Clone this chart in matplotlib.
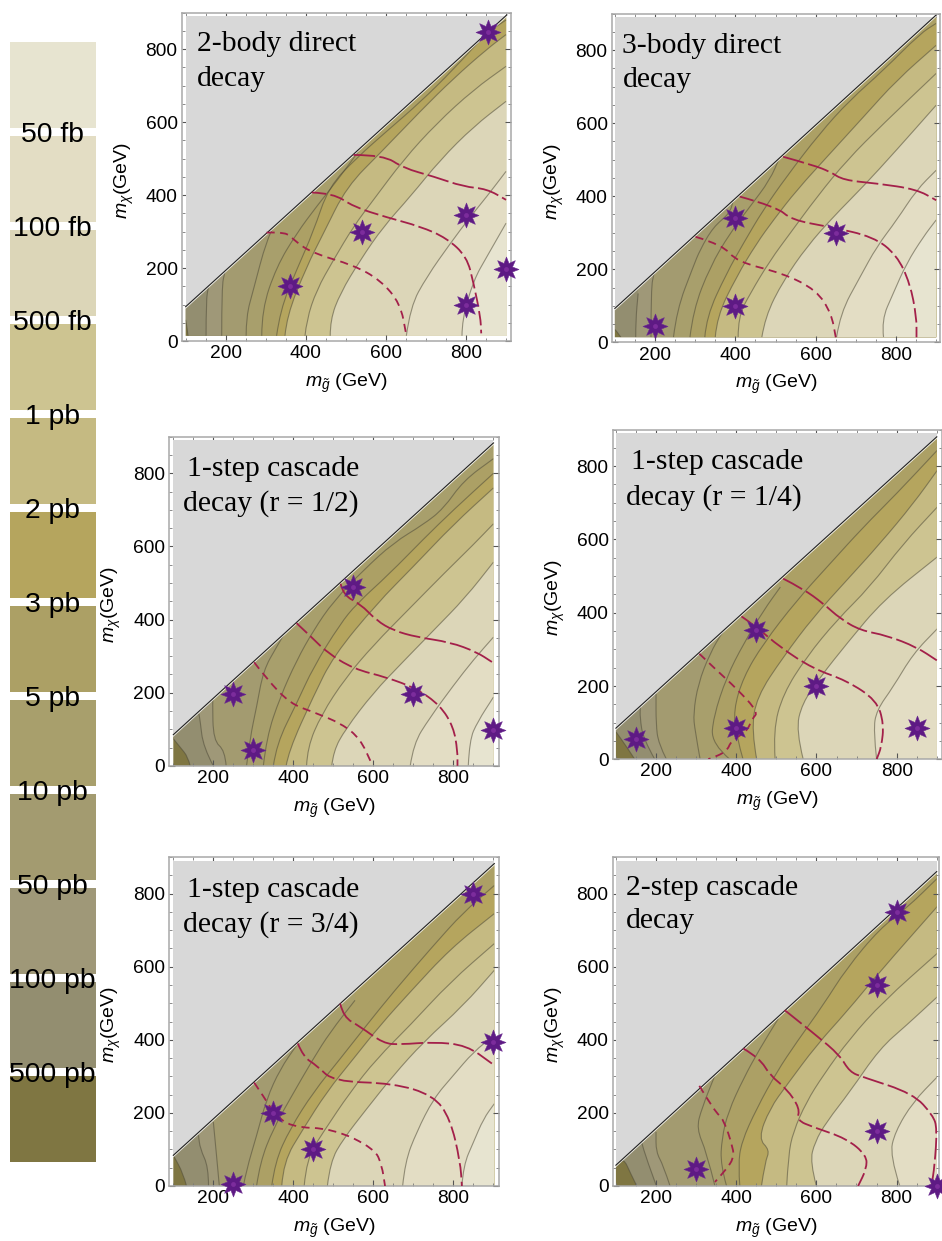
import matplotlib
matplotlib.use("Agg")
import matplotlib.pyplot as plt
from matplotlib.path import Path
from matplotlib.patches import Rectangle, PathPatch, Polygon

plt.rcParams["font.family"] = ["Liberation Sans", "DejaVu Sans"]
plt.rcParams["mathtext.fontset"] = "custom"
plt.rcParams["mathtext.rm"] = "Liberation Sans"
plt.rcParams["mathtext.it"] = "Liberation Sans:italic"

W, H = 942, 1241

# colour scale, light to dark as in the left column
SWATCH_COLORS = ["#E7E4D0", "#E3DDC4", "#DCD6B8", "#CDC491", "#C5BA82", "#B5A55E",
                 "#ACA065", "#A89F6C", "#A39B70", "#9F9878", "#938E70", "#7F7642"]
SWATCH_LABELS = ["50 fb", "100 fb", "500 fb", "1 pb", "2 pb", "3 pb", "5 pb",
                 "10 pb", "50 pb", "100 pb", "500 pb"]

X_TICKS = [200, 400, 600, 800]
Y_TICKS = [0, 200, 400, 600, 800]

# --- 2-body direct: contours from 500 pb down to 50 fb ---
P1_CONTOURS = [
    [(106, 14), (103, 40), (100, 58)],
    [(151, 14), (151, 112), (157, 149)],
    [(190, 14), (190, 149), (198, 190)],
    [(251, 14), (251, 67), (269, 140), (302, 277), (336, 350), (377, 396)],
    [(290, 14), (290, 85), (327, 204), (377, 295), (427, 369), (486, 451), (540, 533)],
    [(327, 14), (336, 85), (377, 195), (419, 300), (457, 423), (530, 505), (602, 575), (686, 655), (769, 745), (852, 845), (900, 880)],
    [(348, 14), (352, 67), (402, 204), (444, 295), (502, 423), (590, 520), (686, 630), (769, 720), (852, 800), (900, 840)],
    [(398, 14), (402, 58), (427, 140), (469, 222), (519, 314), (569, 387), (644, 497), (727, 597), (819, 689), (900, 753)],
    [(461, 14), (461, 58), (486, 131), (536, 222), (594, 314), (661, 396), (736, 497), (819, 588), (900, 657)],
    [(651, 14), (661, 94), (702, 176), (761, 268), (811, 341), (852, 396), (900, 465)],
    [(790, 14), (790, 58), (819, 167), (852, 231), (900, 323)],
]
P1_LIMITS = [
    [(519, 510), (594, 510), (644, 474), (719, 451), (794, 423), (852, 417), (900, 387)],
    [(415, 407), (469, 405), (519, 368), (602, 339), (686, 314), (752, 282), (802, 231), (819, 158), (836, 67), (838, 21)],
    [(302, 297), (352, 300), (373, 273), (419, 240), (519, 208), (586, 167), (636, 103), (651, 16)],
]
P1_POINTS = [(854, 848), (800, 345), (540, 300), (360, 150), (900, 197), (800, 100)]

# --- 3-body direct ---
P2_CONTOURS = [
    [(115, 14), (105, 30), (100, 35)],
    [(152, 14), (152, 60), (158, 134)],
    [(190, 14), (190, 150), (198, 190)],
    [(246, 14), (254, 88), (295, 207), (312, 253), (345, 316), (386, 353), (395, 389)],
    [(287, 14), (295, 88), (337, 207), (386, 298), (436, 371), (486, 444), (511, 508)],
    [(324, 14), (328, 70), (378, 189), (420, 271), (469, 362), (527, 453), (610, 572), (685, 663), (769, 745), (860, 845), (900, 873)],
    [(350, 14), (354, 70), (403, 180), (453, 271), (495, 335), (553, 417), (636, 517), (719, 617), (802, 718), (900, 813)],
    [(407, 14), (407, 70), (437, 134), (487, 225), (536, 298), (603, 398), (678, 499), (769, 599), (900, 736)],
    [(466, 14), (474, 70), (520, 170), (578, 262), (644, 344), (718, 426), (801, 526), (900, 649)],
    [(652, 14), (661, 79), (711, 180), (752, 262), (802, 335), (851, 417), (900, 471)],
    [(769, 14), (764, 61), (793, 134), (826, 216), (868, 289), (900, 335)],
]
P2_LIMITS = [
    [(519, 508), (594, 485), (636, 467), (669, 444), (752, 435), (851, 419), (900, 389)],
    [(411, 399), (503, 371), (540, 335), (636, 316), (744, 289), (802, 239), (835, 161), (851, 70), (851, 14)],
    [(301, 289), (370, 266), (403, 221), (519, 189), (602, 143), (639, 79), (650, 14)],
]
P2_POINTS = [(200, 45), (400, 340), (400, 100), (650, 300)]

# --- 1-step cascade r = 1/2 ---
P3_CONTOURS = [
    [(142, 0), (137, 24), (117, 51), (100, 74)],
    [(200, 0), (175, 51), (167, 124), (164, 142)],
    [(232, 0), (229, 42), (200, 69), (198, 179), (200, 197)],
    [(283, 0), (292, 78), (308, 160), (325, 261), (358, 325), (392, 388)],
    [(325, 0), (333, 78), (367, 188), (408, 288), (450, 370), (500, 450), (575, 535), (650, 610), (725, 660), (775, 703), (825, 780), (900, 840)],
    [(350, 0), (358, 60), (408, 170), (450, 270), (517, 388), (558, 443), (640, 525), (725, 620), (800, 700), (900, 800)],
    [(382, 0), (388, 40), (450, 190), (500, 300), (608, 443), (700, 545), (800, 660), (900, 760)],
    [(433, 0), (435, 50), (470, 140), (530, 240), (600, 330), (690, 430), (780, 530), (850, 605), (900, 662)],
    [(496, 0), (500, 40), (530, 100), (600, 200), (670, 280), (750, 370), (830, 460), (900, 557)],
    [(692, 0), (700, 60), (740, 130), (800, 220), (850, 290), (900, 352)],
    [(837, 0), (840, 70), (860, 120), (900, 188)],
]
P3_LIMITS = [
    [(518, 498), (525, 466), (567, 443), (608, 397), (650, 370), (708, 352), (792, 338), (858, 311), (896, 284)],
    [(408, 390), (450, 347), (483, 311), (550, 265), (633, 242), (708, 211), (767, 165), (800, 106), (810, 42), (810, 0)],
    [(302, 283), (333, 238), (392, 170), (450, 147), (521, 115), (567, 74), (596, 5)],
]
P3_POINTS = [(550, 490), (250, 197), (300, 42), (700, 197), (900, 97)]

# --- 1-step cascade r = 1/4 ---
P4_CONTOURS = [
    [(147, 0), (127, 34), (100, 75)],
    [(197, 0), (168, 56), (160, 115), (161, 143)],
    [(226, 0), (206, 43), (200, 97), (200, 179)],
    [(310, 0), (297, 79), (293, 125), (305, 206), (334, 288), (368, 352), (401, 393)],
    [(384, 0), (338, 43), (343, 115), (376, 225), (418, 315), (468, 406), (510, 470)],
    [(417, 0), (401, 61), (393, 134), (418, 225), (467, 315), (551, 434), (634, 534), (717, 634), (800, 725), (901, 843)],
    [(451, 0), (438, 79), (451, 170), (517, 279), (592, 388), (675, 488), (758, 588), (841, 697), (901, 788)],
    [(497, 0), (492, 79), (517, 179), (575, 279), (650, 379), (733, 470), (816, 588), (901, 688)],
    [(567, 0), (549, 79), (564, 152), (610, 225), (675, 315), (766, 434), (901, 552)],
    [(750, 0), (742, 79), (750, 134), (791, 197), (841, 288), (901, 356)],
]
P4_LIMITS = [
    [(517, 493), (567, 465), (617, 425), (659, 384), (709, 352), (775, 338), (850, 306), (900, 270)],
    [(413, 390), (451, 361), (509, 306), (592, 247), (675, 215), (750, 161), (768, 97), (762, 34), (750, 0)],
    [(308, 288), (351, 243), (401, 193), (455, 129), (440, 111), (426, 75), (388, 52), (376, 20), (330, 0)],
]
P4_POINTS = [(150, 55), (450, 352), (400, 85), (600, 200), (850, 85)]

# --- 1-step cascade r = 3/4 ---
P5_CONTOURS = [
    [(133, 0), (125, 34), (100, 84)],
    [(188, 0), (188, 52), (167, 102), (163, 139)],
    [(215, 0), (208, 84), (200, 175)],
    [(275, 0), (283, 45), (308, 137), (333, 238), (367, 320), (408, 385)],
    [(308, 0), (317, 66), (350, 157), (392, 239), (450, 349), (492, 421), (554, 508)],
    [(346, 0), (354, 66), (392, 157), (450, 257), (517, 348), (583, 440), (650, 531), (750, 658), (825, 749), (902, 822)],
    [(371, 0), (375, 66), (425, 157), (483, 257), (550, 348), (617, 440), (692, 531), (792, 649), (902, 745)],
    [(427, 0), (433, 75), (475, 148), (542, 257), (608, 348), (692, 440), (792, 558), (902, 663)],
    [(485, 0), (492, 66), (525, 129), (583, 211), (650, 303), (725, 394), (825, 494), (902, 590)],
    [(673, 0), (679, 66), (708, 148), (750, 239), (800, 303), (850, 367), (902, 412)],
    [(821, 0), (825, 57), (850, 120), (875, 184), (902, 225)],
]
P5_LIMITS = [
    [(517, 499), (525, 462), (567, 436), (625, 390), (667, 387), (750, 394), (833, 385), (896, 335)],
    [(411, 390), (425, 353), (458, 330), (500, 286), (650, 281), (750, 248), (792, 184), (817, 66), (821, 0)],
    [(302, 283), (329, 239), (350, 202), (392, 161), (500, 157), (603, 102), (621, 57), (629, 0)],
]
P5_POINTS = [(850, 800), (900, 393), (350, 200), (450, 100), (250, 5)]

# --- 2-step cascade ---
P6_CONTOURS = [
    [(152, 0), (135, 38), (122, 70), (110, 68)],
    [(201, 0), (176, 75), (164, 120)],
    [(235, 0), (218, 57), (200, 93), (200, 148)],
    [(347, 0), (326, 93), (301, 157), (314, 212), (347, 303)],
    [(376, 0), (361, 57), (364, 130), (380, 203), (418, 294), (459, 376), (505, 458)],
    [(409, 0), (405, 57), (413, 120), (451, 212), (501, 312), (551, 394), (617, 495), (675, 595), (758, 704), (824, 759), (901, 841)],
    [(463, 0), (472, 66), (484, 98), (455, 130), (484, 212), (526, 276), (600, 385), (675, 476), (758, 586), (901, 764)],
    [(526, 0), (530, 84), (542, 148), (575, 230), (617, 303), (683, 403), (766, 504), (901, 636)],
    [(600, 0), (584, 66), (596, 120), (625, 175), (683, 257), (758, 376), (825, 440), (901, 517)],
    [(808, 0), (783, 84), (796, 148), (841, 230), (901, 298)],
]
P6_LIMITS = [
    [(521, 481), (600, 412), (658, 358), (683, 312), (716, 298), (841, 253), (891, 193), (901, 157), (895, 57), (887, 0)],
    [(418, 376), (459, 349), (484, 303), (526, 266), (559, 212), (551, 180), (592, 161), (675, 130), (725, 84), (725, 47), (704, 0)],
    [(308, 274), (347, 203), (368, 184), (393, 102), (393, 75), (376, 47), (347, 11)],
]
P6_POINTS = [(800, 750), (750, 550), (750, 150), (300, 47), (902, 0)]

PANELS = [
    dict(frame=(181.7, 510.7, 12.7, 341.0), xlim=(90.1, 911.6), floor=14, diag=((100, 94), (902, 894)),
         contours=P1_CONTOURS, limits=P1_LIMITS, points=P1_POINTS,
         title=[("2-body direct", 128, 794), ("decay", 128, 700)]),
    dict(frame=(611.7, 940.0, 13.5, 342.4), xlim=(92.2, 909.5), floor=14, diag=((100, 93), (900, 896)),
         contours=P2_CONTOURS, limits=P2_LIMITS, points=P2_POINTS,
         title=[("3-body direct", 119, 791), ("decay", 119, 698)]),
    dict(frame=(169.3, 498.7, 436.7, 765.8), xlim=(90.0, 913.0), floor=0, diag=((100, 85), (900, 883)),
         contours=P3_CONTOURS, limits=P3_LIMITS, points=P3_POINTS,
         title=[("1-step cascade", 135, 792), ("decay (r = 1/2)", 125, 697)]),
    dict(frame=(612.7, 942.0, 429.5, 759.3), xlim=(92.0, 913.0), floor=0, diag=((100, 85), (900, 880)),
         contours=P4_CONTOURS, limits=P4_LIMITS, points=P4_POINTS,
         title=[("1-step cascade", 138, 791), ("decay (r = 1/4)", 125, 696)]),
    dict(frame=(169.3, 498.7, 857.0, 1186.0), xlim=(90.0, 913.0), floor=0, diag=((100, 84), (902, 882)),
         contours=P5_CONTOURS, limits=P5_LIMITS, points=P5_POINTS,
         title=[("1-step cascade", 135, 791), ("decay (r = 3/4)", 125, 697)]),
    dict(frame=(612.7, 939.3, 857.0, 1186.0), xlim=(92.0, 906.5), floor=0, diag=((100, 57), (900, 860)),
         contours=P6_CONTOURS, limits=P6_LIMITS, points=P6_POINTS,
         title=[("2-step cascade", 125, 796), ("decay", 125, 705)]),
]

FILLS = SWATCH_COLORS[::-1]
LIMIT_DASHES = [(12, 2.4), (8, 2.4), (4.5, 3)]
STAR = Path.unit_regular_star(8, innerCircle=0.52)

fig = plt.figure(figsize=(W / 100, H / 100), dpi=100, facecolor="white")

# colour column, in pixel coordinates
bg = fig.add_axes([0, 0, 1, 1])
bg.set_xlim(0, W)
bg.set_ylim(H, 0)
bg.axis("off")
for i, c in enumerate(SWATCH_COLORS):
    bg.add_patch(Rectangle((10, 42 + i * 94.0), 86, 86, facecolor=c, edgecolor="none"))
for i, lab in enumerate(SWATCH_LABELS):
    bg.text(52.5, 132 + i * 94.05 + 10, lab, ha="center", va="baseline", fontsize=20.4, color="black", zorder=5)


def curve_through(line):
    # quadratic segments with the read points as control points, so the kinks round off
    verts = [line[0]]
    codes = [Path.MOVETO]
    for a, b in zip(line[1:-1], line[2:]):
        verts += [a, ((a[0] + b[0]) / 2, (a[1] + b[1]) / 2)]
        codes += [Path.CURVE3, Path.CURVE3]
    verts.append(line[-1])
    codes.append(Path.LINETO)
    return verts, codes


def draw_panel(p):
    left, right, top, bottom = p["frame"]
    ax = fig.add_axes([left / W, 1 - bottom / H, (right - left) / W, (bottom - top) / H])
    ax.set_xlim(*p["xlim"])
    ax.set_ylim(0, 900)
    floor = p["floor"]
    (x0, y0), (x1, y1) = p["diag"]

    region = Polygon([(x0, floor), (x1, floor), (x1, y1), (x0, y0)], closed=True,
                     facecolor=FILLS[0], edgecolor="none", zorder=1)
    ax.add_patch(region)
    for i, line in enumerate(p["contours"]):
        verts, codes = curve_through(line)
        area = Path(verts + [(line[-1][0], 1000), (1000, 1000), (1000, floor), line[0]],
                    codes + [Path.LINETO, Path.LINETO, Path.LINETO, Path.CLOSEPOLY])
        fill = PathPatch(area, facecolor=FILLS[i + 1], edgecolor="none", zorder=1.1 + i * 0.01)
        ax.add_patch(fill)
        fill.set_clip_path(region)
        edge = PathPatch(Path(verts, codes), fill=False, edgecolor="#4F4B38", alpha=0.55, lw=0.8, zorder=1.5)
        ax.add_patch(edge)
        edge.set_clip_path(region)

    # grey wedge above the diagonal
    ax.fill([x0, x0, x1, x1], [y0, 890, 890, y1], color="#D8D8D8", lw=0, zorder=2.1)
    ax.plot([x0, x1], [y0 - 3, y1 - 3], color="white", lw=1.0, alpha=0.8, zorder=2.2)
    ax.plot([x0, x1], [y0, y1], color="#222222", lw=0.8, zorder=2.3)

    for line, dash in zip(p["limits"], LIMIT_DASHES):
        verts, codes = curve_through(line)
        ax.add_patch(PathPatch(Path(verts, codes), fill=False, edgecolor="#A3204A", lw=1.3,
                               linestyle=(0, dash), zorder=3))

    for x, y in p["points"]:
        ax.plot(x, y, marker=STAR, ms=18, color="#5E1A84", mec="#6A2A90", mew=0.4, zorder=6, clip_on=False)
        ax.plot(x, y, marker="o", ms=3.5, color="#7C2C9C", mew=0, zorder=7, clip_on=False)

    for text, x, y in p["title"]:
        ax.text(x, y, text, family="Liberation Serif", fontsize=21.3, color="black", va="baseline", ha="left", zorder=8)

    ax.set_xticks(X_TICKS)
    ax.set_yticks(Y_TICKS)
    ax.set_xticks(range(100, 901, 50), minor=True)
    ax.set_yticks(range(0, 901, 50), minor=True)
    ax.tick_params(which="major", direction="in", length=4.5, width=0.8, color="#555555",
                   top=True, right=True, labelsize=13.8, pad=3)
    ax.tick_params(which="minor", direction="in", length=2.2, width=0.6, color="#777777", top=True, right=True)
    for s in ax.spines.values():
        s.set_color("#A8A8A8")
        s.set_linewidth(1.1)

    ax.set_xlabel(r"$m_{\tilde{g}}$ (GeV)", fontsize=14, va="center")
    ax.xaxis.set_label_coords(0.5, -0.128)
    ax.set_ylabel(r"$m_{\chi}$(GeV)", fontsize=14, va="center")
    ax.yaxis.set_label_coords(-0.175, 0.49)


for panel in PANELS:
    draw_panel(panel)

fig.savefig("out.png", dpi=100)
plt.close(fig)
